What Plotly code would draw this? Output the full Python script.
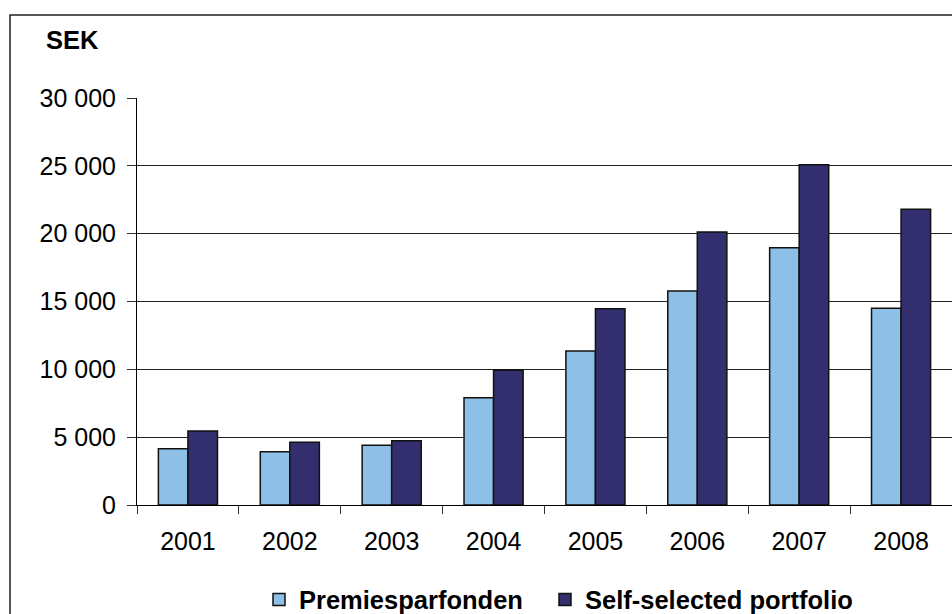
import plotly.graph_objects as go

years = ["2001", "2002", "2003", "2004", "2005", "2006", "2007", "2008"]
premiesparfonden = [4150, 3930, 4400, 7910, 11350, 15770, 18970, 14500]
self_selected = [5450, 4620, 4740, 9930, 14470, 20120, 25080, 21800]
y_tickvals = [0, 5000, 10000, 15000, 20000, 25000, 30000]
y_ticktext = ["0", "5 000", "10 000", "15 000", "20 000", "25 000", "30 000"]

FONT = "Liberation Sans, Arial, sans-serif"

fig = go.Figure()
fig.add_trace(go.Bar(
    x=years, y=premiesparfonden, name="Premiesparfonden",
    marker=dict(color="#8EBFE7", line=dict(color="#111111", width=1.5)),
    legend="legend",
))
fig.add_trace(go.Bar(
    x=years, y=self_selected, name="Self-selected portfolio",
    marker=dict(color="#332F6F", line=dict(color="#111111", width=1.5)),
    legend="legend2",
))

leg_common = dict(
    orientation="h", xanchor="left", y=-0.233, yanchor="middle",
    font=dict(family=FONT, size=25.5, color="black", weight="bold"),
    bgcolor="rgba(0,0,0,0)",
)

fig.update_layout(
    width=952, height=614,
    margin=dict(l=137, r=0, t=98, b=109, autoexpand=False),
    paper_bgcolor="white", plot_bgcolor="white",
    barmode="group", bargap=0.42, bargroupgap=0,
    font=dict(family=FONT, size=25, color="black"),
    showlegend=True,
    legend=dict(x=(259 - 137) / 815, **leg_common),
    legend2=dict(x=(545 - 137) / 815, **leg_common),
    xaxis=dict(
        type="category", showgrid=False, showline=True, linecolor="black", linewidth=1,
        ticks="outside", tickson="boundaries", ticklen=8, tickcolor="#333333",
        tickfont=dict(size=25), ticklabelstandoff=14,
    ),
    yaxis=dict(
        range=[0, 30000], tickvals=y_tickvals, ticktext=y_ticktext,
        showgrid=True, gridcolor="#222222", gridwidth=1,
        showline=True, linecolor="black", linewidth=1,
        ticks="outside", ticklen=9, tickcolor="#333333",
        tickfont=dict(size=25), ticklabelstandoff=6,
        zeroline=False,
    ),
    shapes=[dict(
        type="rect", xref="paper", yref="paper",
        x0=-0.1558, x1=1.2, y0=-0.5, y1=1.204,
        line=dict(color="#222222", width=1.5), fillcolor="rgba(0,0,0,0)", layer="below",
    )],
    annotations=[dict(
        text="<b>SEK</b>", xref="paper", yref="paper",
        x=(44 - 137) / 815, y=1 + (98 - 40) / 407, xanchor="left", yanchor="middle",
        showarrow=False, font=dict(family=FONT, size=25.5, color="black"),
    )],
)

fig.write_html("out.html")
